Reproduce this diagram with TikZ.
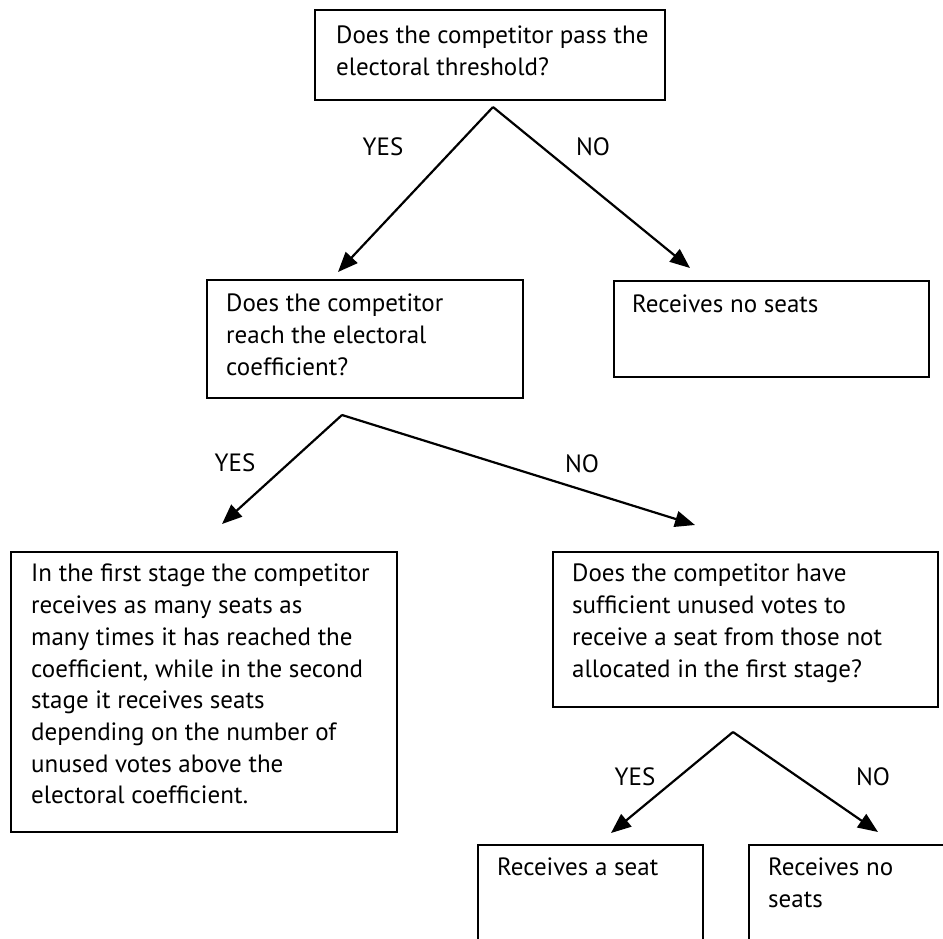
\documentclass[tikz,border=0pt]{standalone}
\usepackage{fontspec}
\setmainfont{PT Sans}
\usetikzlibrary{arrows.meta}
\begin{document}
\begin{tikzpicture}[x=1pt,y=-1pt]
  \tikzset{box/.style={draw, line width=1.6pt, inner sep=0pt, anchor=north west},
    txt/.style={anchor=north west, inner sep=0pt, align=left, font=\fontsize{25}{31.7}\selectfont},
    lbl/.style={inner sep=0pt, font=\fontsize{25}{30}\selectfont},
    arr/.style={line width=2.2pt, -{Triangle[length=20pt,width=16pt]}}}
  \useasboundingbox (0,0) rectangle (943,938);

  % boxes
  \node[box, minimum width=350pt, minimum height=90pt] at (314,9) (b_1) {};
  \node[box, minimum width=316pt, minimum height=118pt] at (206,279) (b_2) {};
  \node[box, minimum width=315pt, minimum height=96pt] at (613,280) (b_3) {};
  \node[box, minimum width=386pt, minimum height=280pt] at (10,551) (b_4) {};
  \node[box, minimum width=385pt, minimum height=155pt] at (552,551) (b_5) {};
  \node[box, minimum width=225pt, minimum height=120pt] at (477,844) (b_6) {};
  \node[box, minimum width=225pt, minimum height=120pt] at (748,844) (b_7) {};

  \node[txt] at ([xshift=22pt,yshift=-17pt]b_1.north west) (t_1) {Does the competitor pass the\\electoral threshold?};
  \node[txt] at ([xshift=20pt,yshift=-15pt]b_2.north west) (t_2) {Does the competitor\\reach the electoral\\coefficient?};
  \node[txt] at ([xshift=19pt,yshift=-15pt]b_3.north west) (t_3) {Receives no seats};
  \node[txt] at ([xshift=21pt,yshift=-13pt]b_4.north west) (t_4) {In the first stage the competitor\\receives as many seats as\\many times it has reached the\\coefficient, while in the second\\stage it receives seats\\depending on the number of\\unused votes above the\\electoral coefficient.};
  \node[txt] at ([xshift=20pt,yshift=-13pt]b_5.north west) (t_5) {Does the competitor have\\sufficient unused votes to\\receive a seat from those not\\allocated in the first stage?};
  \node[txt] at ([xshift=20pt,yshift=-14pt]b_6.north west) (t_6) {Receives a seat};
  \node[txt] at ([xshift=20pt,yshift=-14pt]b_7.north west) (t_7) {Receives no\\seats};

  % branch points and arrow ends
  \coordinate (a_1) at (493,107);
  \coordinate (e_1) at (338,272);
  \coordinate (e_2) at (690,268);
  \coordinate (a_2) at (342,415);
  \coordinate (e_3) at (222,524);
  \coordinate (e_4) at (695,525);
  \coordinate (a_3) at (733,732);
  \coordinate (e_5) at (611,833);
  \coordinate (e_6) at (878,832);

  \draw[arr] (a_1) -- (e_1);
  \draw[arr] (a_1) -- (e_2);
  \draw[arr] (a_2) -- (e_3);
  \draw[arr] (a_2) -- (e_4);
  \draw[arr] (a_3) -- (e_5);
  \draw[arr] (a_3) -- (e_6);

  \node[lbl] at (383,147) (yes_1) {YES};
  \node[lbl] at (593,147) (no_1) {NO};
  \node[lbl] at (235,463) (yes_2) {YES};
  \node[lbl] at (582,464) (no_2) {NO};
  \node[lbl] at (635,777) (yes_3) {YES};
  \node[lbl] at (873,777) (no_3) {NO};
\end{tikzpicture}
\end{document}
